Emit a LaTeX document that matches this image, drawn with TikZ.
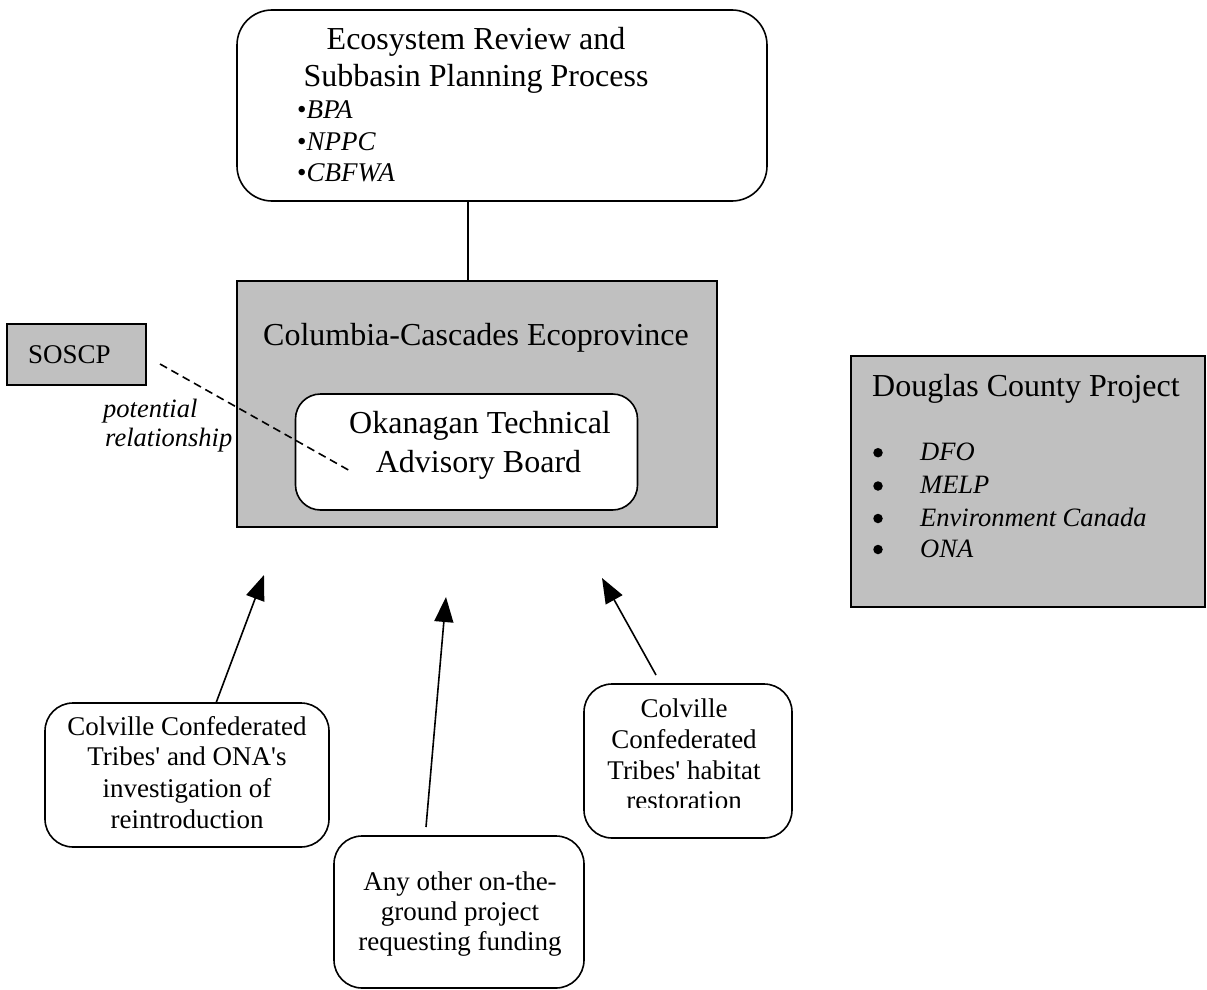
\documentclass[tikz,border=0pt]{standalone}
\usepackage{fontspec}
\setmainfont{Liberation Serif}[Ligatures=TeXOff]
\usetikzlibrary{arrows.meta,calc}
\definecolor{boxgray}{RGB}{192,192,192}
\begin{document}
\begin{tikzpicture}[x=1pt,y=-1pt,
  box/.style={draw=black,line width=1.6pt,inner sep=0pt,outer sep=0pt},
  rbox/.style={box,rounded corners=28pt,fill=white},
  gbox/.style={box,fill=boxgray},
  txt/.style={inner sep=0pt,anchor=base,font=\fontsize{27}{31}\selectfont},
  itxt/.style={inner sep=0pt,anchor=base west,font=\fontsize{26.5}{31}\selectfont\itshape},
  big/.style={inner sep=0pt,anchor=base,font=\fontsize{32}{36}\selectfont},
  bul/.style={circle,fill=black,inner sep=0pt,minimum size=9.5pt},
  arr/.style={line width=1.6pt,-{Triangle[length=25pt,width=19pt]}},
]
\useasboundingbox (0,0) rectangle (1207,990);

% boxes
\node[rbox,rounded corners=35pt,minimum width=530pt,minimum height=191pt] (top) at (502,105.5) {};
\node[gbox,minimum width=480pt,minimum height=246pt] (col) at (477,404) {};
\node[rbox,rounded corners=25pt,minimum width=342pt,minimum height=116pt] (okb) at (466.5,452) {};
\node[gbox,minimum width=139pt,minimum height=61pt] (sos) at (76.5,354.5) {};
\node[gbox,minimum width=354pt,minimum height=251pt] (dou) at (1028,481.5) {};
\node[rbox,minimum width=284pt,minimum height=144pt] (b1) at (187,775) {};
\node[rbox,minimum width=250pt,minimum height=152pt] (b2) at (459,912) {};
\node[rbox,minimum width=208pt,minimum height=154pt] (b3) at (688,761) {};

% connectors
\draw[line width=1.6pt] ($(top.south)+(-34,0)$) -- ($(col.north)+(-9,0)$);
\draw[line width=1.6pt,dash pattern=on 8pt off 5pt] ($(sos.east)+(14,9.5)$) -- ($(okb.center)+(-114.5,20)$);
\coordinate (t1) at (264,575);
\coordinate (t2) at (446,597);
\coordinate (t3) at (602,578);
\draw[arr] ($(b1.north)+(29,0)$) -- (t1);
\draw[arr] ($(b2.north)+(-33,-9)$) -- (t2);
\draw[arr] ($(b3.north)+(-32,-9)$) -- (t3);

% top box text
\node[big] (e1) at (476,50) {Ecosystem Review and};
\node[big] (e2) at (476,86) {Subbasin Planning Process};
\node[txt,anchor=base west] (e3) at (297,118) {•\textit{BPA}};
\node[txt,anchor=base west] (e4) at (297,150) {•\textit{NPPC}};
\node[txt,anchor=base west] (e5) at (297,181) {•\textit{CBFWA}};

% Columbia
\node[big] (c1) at (476,345) {Columbia-Cascades Ecoprovince};
\node[big] (o1) at (480,433) {Okanagan Technical};
\node[big] (o2) at (478.5,472) {Advisory Board};

% SOSCP
\node[txt,anchor=base west] (s1) at (28,363) {SOSCP};
\node[itxt] (p1) at (103,417) {potential};
\node[itxt] (p2) at (105,446) {relationship};

% Douglas
\node[big,anchor=base west] (d0) at (872,396) {Douglas County Project};
\foreach \n/\y/\c/\t in {1/460/452.7/DFO,2/493/486/MELP,3/526/518.5/Environment Canada,4/557/549.5/ONA}{
  \node[bul] (db\n) at (878,\c) {};
  \node[itxt] (di\n) at (920,\y) {\t};
}

% bottom boxes
\node[txt] (a1) at (187,735) {Colville Confederated};
\node[txt] (a2) at (187,765) {Tribes' and ONA's};
\node[txt] (a3) at (187,797) {investigation of};
\node[txt] (a4) at (187,828) {reintroduction};

\node[txt] (n1) at (460,890) {Any other on-the-};
\node[txt] (n2) at (460,920) {ground project};
\node[txt] (n3) at (460,950) {requesting funding};

\node[txt] (h1) at (684,717) {Colville};
\node[txt] (h2) at (684,748) {Confederated};
\node[txt] (h3) at (684,779) {Tribes' habitat};
\begin{scope}
\clip (584,785) rectangle (792,807.5);
\node[txt] (h4) at (684,809.5) {restoration};
\end{scope}
\end{tikzpicture}
\end{document}
